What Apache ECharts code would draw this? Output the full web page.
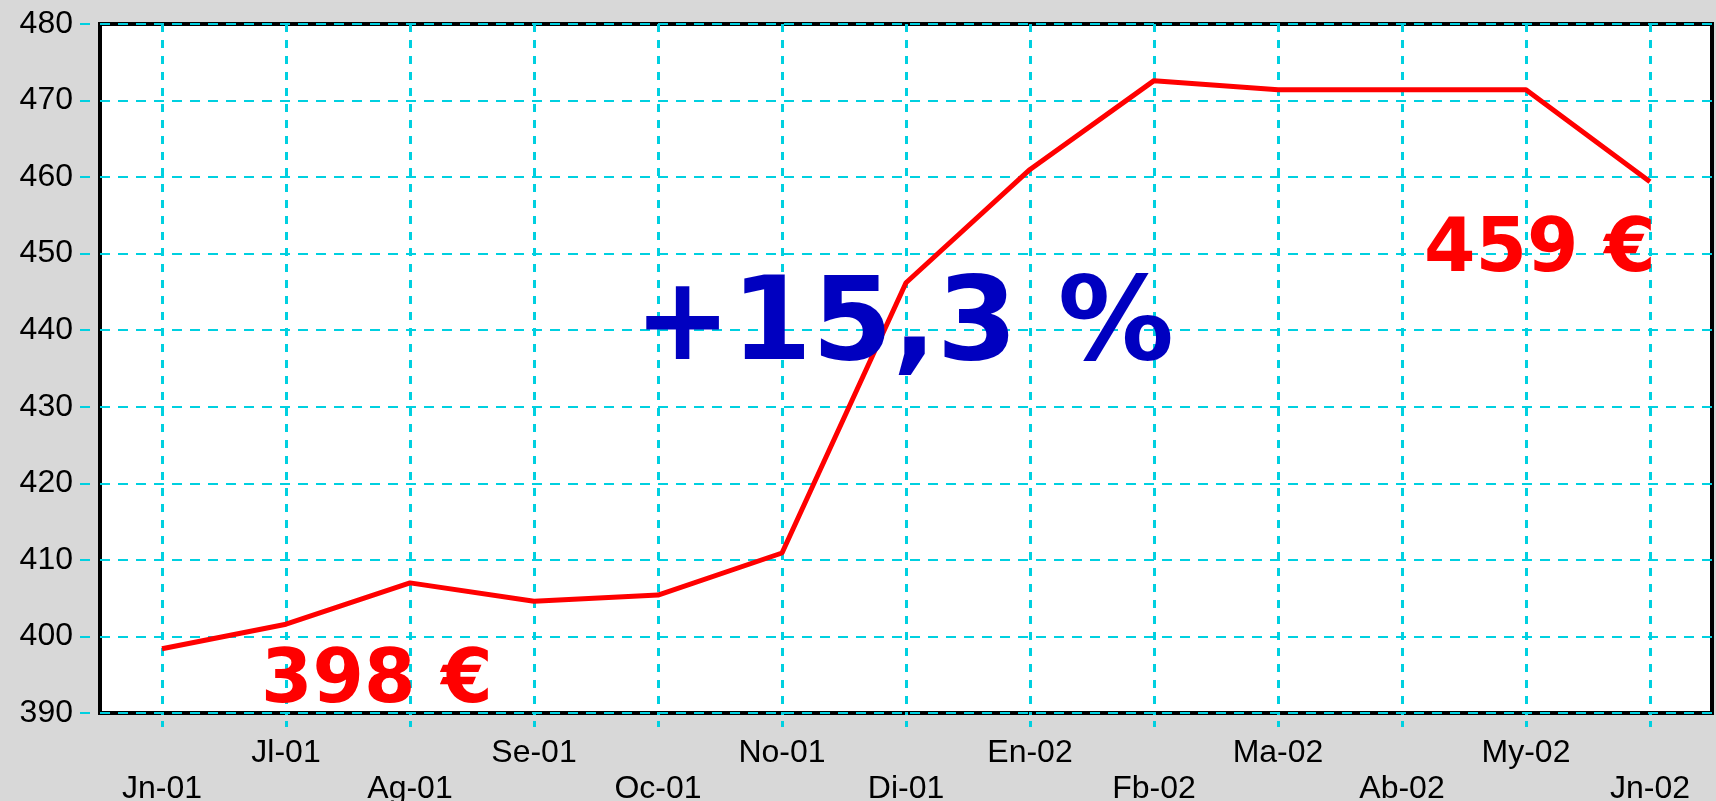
<!DOCTYPE html>
<html>
<head>
<meta charset="utf-8">
<script src="https://cdn.jsdelivr.net/npm/echarts@6/dist/echarts.min.js"></script>
<style>
  html, body { margin: 0; padding: 0; background: #d8d8d8; }
  #chart { width: 1716px; height: 801px; }
</style>
</head>
<body>
<div id="chart"></div>
<script>
// monthly price, Jun 2001 - Jun 2002
const months = ["Jn-01", "Jl-01", "Ag-01", "Se-01", "Oc-01", "No-01", "Di-01", "En-02", "Fb-02", "Ma-02", "Ab-02", "My-02", "Jn-02"];
const prices = [398.4, 401.6, 407.0, 404.6, 405.4, 410.9, 446.2, 461.0, 472.6, 471.4, 471.4, 471.4, 459.4];

// annotations
const startLabel = "398 €";
const endLabel = "459 €";
const changeLabel = "+15,3 %";

const cyan = "#00d0e0";

const chart = echarts.init(document.getElementById("chart"), null, { renderer: "canvas" });

const option = {
  backgroundColor: "#d8d8d8",
  animation: false,
  grid: {
    left: 100,
    right: 4,
    top: 24,
    bottom: 88,
    outerBoundsMode: "none",
    containLabel: false,
    show: true,
    backgroundColor: "#ffffff",
    borderColor: "#000000",
    borderWidth: 4,
  },
  xAxis: {
    type: "category",
    data: months,
    boundaryGap: true,
    axisLine: { show: false },
    axisTick: {
      show: true,
      alignWithLabel: true,
      length: 14,
      lineStyle: { color: cyan, width: 3, type: [8, 6], dashOffset: 6 },
    },
    splitLine: {
      show: true,
      alignWithLabel: true,
      lineStyle: { color: cyan, width: 3, type: [8, 8] },
    },
    axisLabel: {
      interval: 0,
      margin: 22,
      color: "#000",
      fontFamily: "Liberation Sans",
      fontSize: 32,
      lineHeight: 36,
      formatter(value, idx) {
        return idx % 2 === 0 ? "\n" + value : value;
      },
    },
  },
  yAxis: {
    type: "value",
    min: 390,
    max: 480,
    interval: 10,
    axisLine: { show: false },
    axisTick: {
      show: true,
      length: 21,
      lineStyle: { color: cyan, width: 2, type: [10, 11], dashOffset: 11 },
    },
    splitLine: {
      show: true,
      lineStyle: { color: cyan, width: 2, type: [10, 8] },
    },
    axisLabel: {
      margin: 27,
      color: "#000",
      fontFamily: "Liberation Sans",
      fontSize: 32,
    },
  },
  series: [
    {
      name: "Precio",
      type: "line",
      data: prices,
      showSymbol: false,
      lineStyle: { color: "#ff0000", width: 5 },
      z: 3,
    },
  ],
  graphic: [
    {
      type: "text",
      left: 634,
      top: 271,
      z: 10,
      style: {
        text: changeLabel,
        fill: "#0000c0",
        font: "bold 116px 'DejaVu Sans'",
      },
    },
    {
      type: "text",
      left: 261,
      top: 646,
      z: 10,
      style: {
        text: startLabel,
        fill: "#ff0000",
        font: "bold 74px 'DejaVu Sans'",
      },
    },
    {
      type: "text",
      left: 1424,
      top: 215,
      z: 10,
      style: {
        text: endLabel,
        fill: "#ff0000",
        font: "bold 74px 'DejaVu Sans'",
      },
    },
  ],
};

chart.setOption(option);
</script>
</body>
</html>
